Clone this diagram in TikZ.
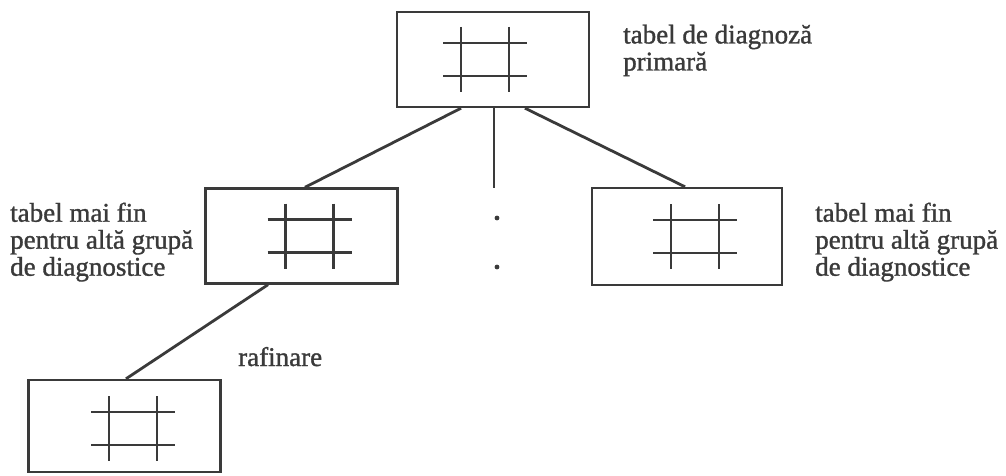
\documentclass[tikz,border=0pt]{standalone}
\usepackage{fontspec}
\setmainfont{Liberation Serif}[FakeBold=1.2]
\usetikzlibrary{calc}
\definecolor{ink}{HTML}{3a3a3a}
\begin{document}
\begin{tikzpicture}[x=1pt,y=-1pt,
  boxnode/.style={draw=ink, line width=2.4pt, minimum width=192pt, minimum height=95pt, inner sep=0pt},
  link/.style={draw=ink, line width=2.8pt},
  lbl/.style={text=ink, font=\fontsize{27}{27}\selectfont, inner sep=0pt, align=left},
  gridline/.style={draw=ink, line width=2.5pt},
  pics/hashgrid/.style={code={
    \draw[gridline] (-24,-32.5) -- (-24,32.5) (24,-32.5) -- (24,32.5)
                    (-42,-16.5) -- (42,-16.5) (-42,16.5) -- (42,16.5);
  }}]
\fill[white] (0,0) rectangle (1006,476);
\useasboundingbox (0,0) rectangle (1006,476);

% boxes
\node[boxnode] (top)  at (493,59.5) {};
\node[boxnode] (midL) at (301.5,236) {};
\node[boxnode, minimum width=190pt, minimum height=97pt] (midR) at (687,236.5) {};
\node[boxnode, minimum height=92pt] (bot)  at (124.5,426) {};

% grids
\pic at ($(top.center)+(-8,0)$) {hashgrid};
\pic at ($(midL.center)+(8,0)$) {hashgrid};
\pic at ($(midR.center)+(8,0)$) {hashgrid};
\pic at ($(bot.center)+(8.5,2.5)$) {hashgrid};

% connectors
\draw[link] ($(top.south)+(-32,0)$) -- ($(midL.north)+(3.5,0)$);
\draw[link] ($(top.south)+(32,0)$) -- ($(midR.north)+(-2,0)$);
\coordinate (vend) at (494,188);
\draw[link] ($(top.south)+(1,0)$) -- (vend);
\draw[link] ($(midL.south)+(-33.5,0)$) -- ($(bot.north)+(1.5,0)$);

% dots
\coordinate (dotA) at (497,218);
\coordinate (dotB) at (497,267);
\fill[ink] (dotA) circle (2.4);
\fill[ink] (dotB) circle (2.4);

% labels
\node[lbl, anchor=north west] (ttop) at (623,24.5) {tabel de diagnoză\\primară};
\node[lbl, anchor=north west] (tL) at (10,202.5) {tabel mai fin\\pentru altă grupă\\de diagnostice};
\node[lbl, anchor=north west] (tR) at (815,202.5) {tabel mai fin\\pentru altă grupă\\de diagnostice};
\node[lbl, anchor=base west] (traf) at (238,366) {rafinare};
\end{tikzpicture}
\end{document}
